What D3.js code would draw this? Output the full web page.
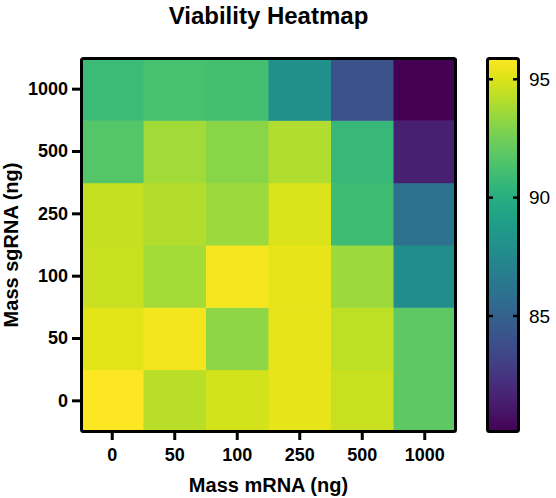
<!DOCTYPE html>
<html>
<head>
<meta charset="utf-8">
<script src="https://cdn.jsdelivr.net/npm/d3@7"></script>
<style>
  html, body { margin: 0; padding: 0; background: #fff; }
  svg { display: block; font-family: "Liberation Sans", Arial, sans-serif; }
</style>
</head>
<body>
<svg id="chart" width="556" height="498"></svg>
<script>
// Doses on each axis (ng)
const mrnaDoses = ["0", "50", "100", "250", "500", "1000"];
const sgrnaDoses = ["0", "50", "100", "250", "500", "1000"];

// Viability (%) per sgRNA dose row, columns follow mrnaDoses
const viabSg0    = [95.9, 94.2, 94.8, 95.3, 94.6, 92.0];
const viabSg50   = [95.2, 95.6, 93.2, 95.3, 94.3, 92.0];
const viabSg100  = [94.6, 93.8, 95.7, 95.3, 93.5, 87.8];
const viabSg250  = [94.5, 94.1, 93.5, 95.0, 91.0, 86.0];
const viabSg500  = [91.7, 93.7, 93.1, 94.0, 90.7, 81.5];
const viabSg1000 = [90.9, 91.3, 91.2, 88.0, 84.1, 80.1];

// Colour bar range and ticks
const colorDomain = [80.1, 95.9];
const colorTicks = [85, 90, 95];

const rows = [viabSg0, viabSg50, viabSg100, viabSg250, viabSg500, viabSg1000];
const cells = [];
rows.forEach((vals, ri) => vals.forEach((v, ci) => cells.push({ sg: sgrnaDoses[ri], mrna: mrnaDoses[ci], v })));

const svg = d3.select("#chart");
const plot = { left: 81, right: 456, top: 58, bottom: 432 };
const bar = { left: 487, right: 519, top: 58, bottom: 432 };

const x = d3.scaleBand().domain(mrnaDoses).range([plot.left, plot.right]);
const y = d3.scaleBand().domain(sgrnaDoses).range([plot.bottom, plot.top]);
const color = d3.scaleSequential(d3.interpolateViridis).domain(colorDomain);

// Title
svg.append("text")
  .attr("x", (plot.left + plot.right) / 2)
  .attr("y", 24)
  .attr("text-anchor", "middle")
  .attr("font-size", 24)
  .attr("font-weight", "bold")
  .text("Viability Heatmap");

// Heatmap cells
svg.append("g").selectAll("rect")
  .data(cells)
  .join("rect")
  .attr("x", d => x(d.mrna))
  .attr("y", d => y(d.sg))
  .attr("width", x.bandwidth() + 0.5)
  .attr("height", y.bandwidth() + 0.5)
  .attr("fill", d => color(d.v));

// Frame
svg.append("rect")
  .attr("x", plot.left + 0.5).attr("y", plot.top + 0.5)
  .attr("width", plot.right - plot.left - 1).attr("height", plot.bottom - plot.top - 1)
  .attr("fill", "none").attr("stroke", "#000").attr("stroke-width", 3).attr("rx", 2);

// Axes
const xAxis = d3.axisBottom(x).tickSize(7).tickPadding(8);
const gx = svg.append("g").attr("transform", `translate(0,${plot.bottom + 1})`).call(xAxis);
const yAxis = d3.axisLeft(y).tickSize(8).tickPadding(4);
const gy = svg.append("g").attr("transform", `translate(${plot.left - 1},0)`).call(yAxis);
[gx, gy].forEach(g => {
  g.select(".domain").remove();
  g.selectAll(".tick line").attr("stroke", "#000").attr("stroke-width", 3);
  g.selectAll(".tick text")
    .attr("font-family", "Liberation Sans, Arial, sans-serif")
    .attr("font-size", 18).attr("font-weight", "bold").attr("fill", "#000");
});

// Axis titles
svg.append("text")
  .attr("x", (plot.left + plot.right) / 2)
  .attr("y", 492)
  .attr("text-anchor", "middle")
  .attr("font-size", 20).attr("font-weight", "bold")
  .text("Mass mRNA (ng)");
svg.append("text")
  .attr("transform", `translate(18,${(plot.top + plot.bottom) / 2}) rotate(-90)`)
  .attr("text-anchor", "middle")
  .attr("font-size", 20).attr("font-weight", "bold")
  .text("Mass sgRNA (ng)");

// Colour bar
const cb = d3.scaleLinear().domain(colorDomain).range([bar.bottom, bar.top]);
const defs = svg.append("defs");
const grad = defs.append("linearGradient").attr("id", "viridisGrad")
  .attr("x1", 0).attr("y1", 1).attr("x2", 0).attr("y2", 0);
d3.range(0, 1.0001, 0.05).forEach(t => {
  grad.append("stop").attr("offset", t).attr("stop-color", d3.interpolateViridis(t));
});
svg.append("rect")
  .attr("x", bar.left).attr("y", bar.top)
  .attr("width", bar.right - bar.left).attr("height", bar.bottom - bar.top)
  .attr("fill", "url(#viridisGrad)");
svg.append("rect")
  .attr("x", bar.left + 0.5).attr("y", bar.top + 0.5)
  .attr("width", bar.right - bar.left - 1).attr("height", bar.bottom - bar.top - 1)
  .attr("fill", "none").attr("stroke", "#000").attr("stroke-width", 3).attr("rx", 2);

const cbTicks = svg.append("g").selectAll("g").data(colorTicks).join("g")
  .attr("transform", d => `translate(0,${cb(d)})`);
cbTicks.append("line").attr("x1", bar.left).attr("x2", bar.left + 6)
  .attr("stroke", "#000").attr("stroke-width", 2.5);
cbTicks.append("line").attr("x1", bar.right - 6).attr("x2", bar.right)
  .attr("stroke", "#000").attr("stroke-width", 2.5);
cbTicks.append("text")
  .attr("x", 529).attr("dy", "0.35em")
  .attr("font-size", 19)
  .text(d => d);
</script>
</body>
</html>
